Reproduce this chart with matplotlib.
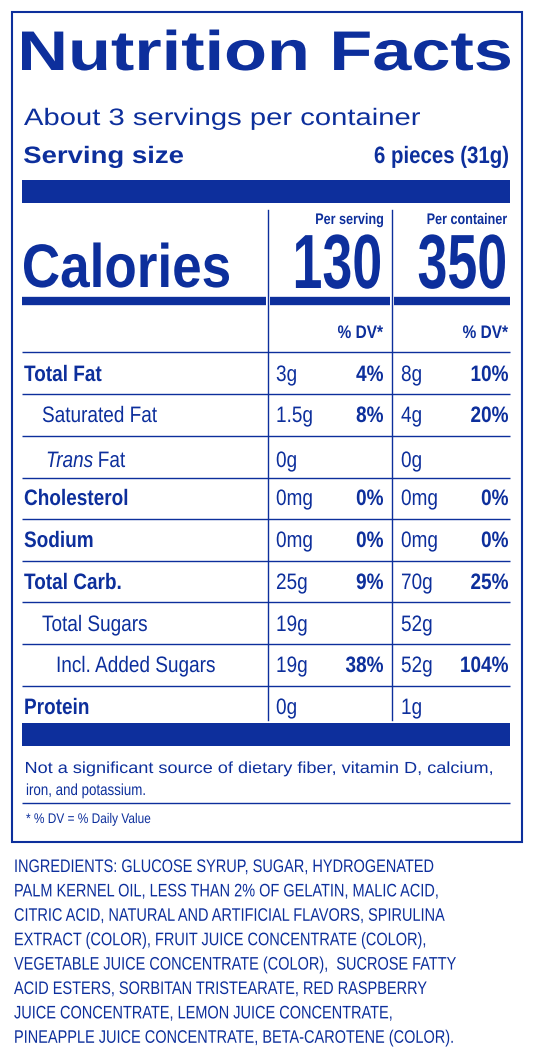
import matplotlib
matplotlib.use("Agg")
import matplotlib.pyplot as plt
from matplotlib.textpath import TextPath
from matplotlib.font_manager import FontProperties
from matplotlib.patches import PathPatch
from matplotlib.transforms import Affine2D

C = '#0d2f9c'
FONT = 'Liberation Sans'

servings_text = "About 3 servings per container"
serving_size = ("Serving size", "6 pieces (31g)")
calories = ("130", "350")
rows = ["Total Fat", "Saturated Fat", "Trans Fat", "Cholesterol", "Sodium",
        "Total Carb.", "Total Sugars", "Incl. Added Sugars", "Protein"]
row_bold = [True, False, False, True, True, True, False, False, True]
row_x = [24, 42, 46, 24, 24, 24, 42, 56, 24]
serv_amt = ["3g", "1.5g", "0g", "0mg", "0mg", "25g", "19g", "19g", "0g"]
serv_dv = ["4%", "8%", "", "0%", "0%", "9%", "", "38%", ""]
cont_amt = ["8g", "4g", "0g", "0mg", "0mg", "70g", "52g", "52g", "1g"]
cont_dv = ["10%", "20%", "", "0%", "0%", "25%", "", "104%", ""]
footnote = ["Not a significant source of dietary fiber, vitamin D, calcium,",
            "iron, and potassium."]
dv_note = "* % DV = % Daily Value"
ingredients = [
    "INGREDIENTS: GLUCOSE SYRUP, SUGAR, HYDROGENATED",
    "PALM KERNEL OIL, LESS THAN 2% OF GELATIN, MALIC ACID,",
    "CITRIC ACID, NATURAL AND ARTIFICIAL FLAVORS, SPIRULINA",
    "EXTRACT (COLOR), FRUIT JUICE CONCENTRATE (COLOR),",
    "VEGETABLE JUICE CONCENTRATE (COLOR),  SUCROSE FATTY",
    "ACID ESTERS, SORBITAN TRISTEARATE, RED RASPBERRY",
    "JUICE CONCENTRATE, LEMON JUICE CONCENTRATE,",
    "PINEAPPLE JUICE CONCENTRATE, BETA-CAROTENE (COLOR).",
]

fig = plt.figure(figsize=(5.34, 10.56), dpi=100)
ax = fig.add_axes([0, 0, 1, 1])
ax.set_xlim(0, 534); ax.set_ylim(1056, 0); ax.axis('off')

CAP = 0.716

def P(x, yb, s, cap, bold=False, ha='left', width=None, cond=0.9, italic=False):
    if not s:
        return 0
    fp = FontProperties(family=FONT, weight='bold' if bold else 'normal',
                        style='italic' if italic else 'normal')
    tp = TextPath((0, 0), s, size=1, prop=fp)
    ext = tp.get_extents()
    sy = cap / CAP
    w0 = ext.x1
    sx = width / ext.width if width else sy * cond
    w = w0 * sx
    x0 = x - w if ha == 'right' else x
    if width:
        x0 -= ext.x0 * sx
    tr = Affine2D().scale(sx, -sy).translate(x0, yb)
    ax.add_patch(PathPatch(tr.transform_path(tp), fc=C, ec='none', lw=0))
    return w

def H(y, x0, x1, lw):
    ax.plot([x0, x1], [y, y], color=C, lw=lw, solid_capstyle='butt')

ax.add_patch(plt.Rectangle((12, 12), 510, 830, fill=False, ec=C, lw=1.5))
P(22, 70, "Nutrition Facts", 40, bold=True, width=488)
P(24, 125, servings_text, 17, width=396)
P(24, 163, serving_size[0], 17, bold=True, width=159)
P(508, 163, serving_size[1], 17, bold=True, ha='right', cond=0.86)
ax.add_patch(plt.Rectangle((22, 180), 488, 23, color=C, lw=0))
for x in (268, 392):
    ax.plot([x, x], [210, 720], color=C, lw=1)
P(383, 224, "Per serving", 11, bold=True, ha='right', cond=0.82)
P(507, 224, "Per container", 11, bold=True, ha='right', cond=0.82)
P(24, 287, "Calories", 44, bold=True, width=205)
P(380, 288, calories[0], 55, bold=True, ha='right', cond=0.7)
P(505, 288, calories[1], 55, bold=True, ha='right', cond=0.7)
for a, b in ((22, 266), (270, 390), (394, 510)):
    H(301, a, b, 6)
P(383, 338, "% DV*", 13, bold=True, ha='right', cond=0.85)
P(508, 338, "% DV*", 13, bold=True, ha='right', cond=0.85)
ys = [373, 414, 459, 497, 539, 581, 623, 664, 706]
lines = [352, 394, 436, 478, 519, 561, 602, 644, 686]
for y in lines:
    H(y, 22, 510, 1)
for i, y in enumerate(ys):
    yb = y + 8
    if rows[i] == "Trans Fat":
        w = P(row_x[i], yb, "Trans", 16, italic=True, cond=0.85)
        P(row_x[i] + w + 5, yb, "Fat", 16, cond=0.85)
    else:
        P(row_x[i], yb, rows[i], 16, bold=row_bold[i], cond=0.85)
    P(276, yb, serv_amt[i], 16, cond=0.85)
    P(383, yb, serv_dv[i], 16, bold=True, ha='right', cond=0.85)
    P(401, yb, cont_amt[i], 16, cond=0.85)
    P(508, yb, cont_dv[i], 16, bold=True, ha='right', cond=0.85)
ax.add_patch(plt.Rectangle((22, 723), 488, 23, color=C, lw=0))
P(26, 773, footnote[0], 11.5, width=466)
P(26, 795, footnote[1], 11.5, cond=0.83)
H(803, 22, 510, 1)
P(26, 823, dv_note, 10, cond=0.85)
for i, s in enumerate(ingredients):
    P(14, 872 + i * 24.4, s, 13, cond=0.80)
fig.savefig("out.png", dpi=100)
